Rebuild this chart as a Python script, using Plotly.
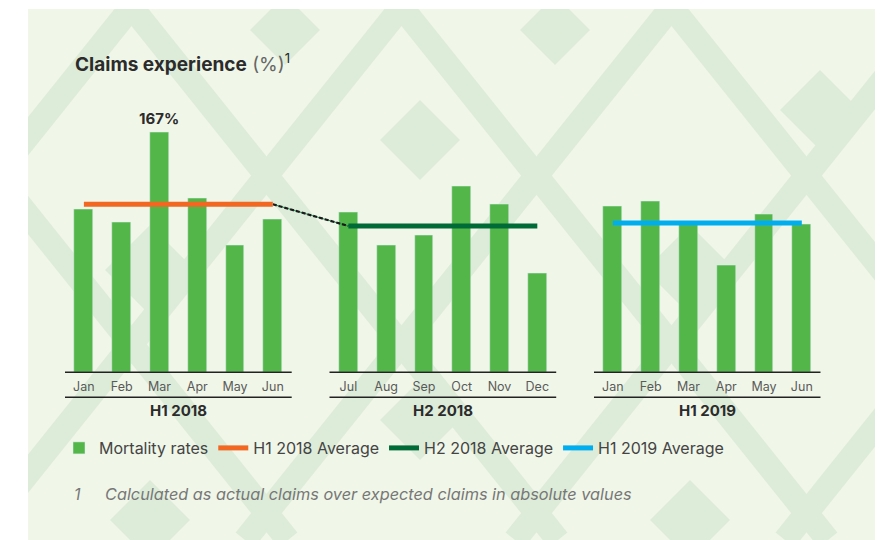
import plotly.graph_objects as go

# ---------------- data ----------------
groups = ["H1 2018", "H2 2018", "H1 2019"]
months_h1_2018 = ["Jan", "Feb", "Mar", "Apr", "May", "Jun"]
months_h2_2018 = ["Jul", "Aug", "Sep", "Oct", "Nov", "Dec"]
months_h1_2019 = ["Jan", "Feb", "Mar", "Apr", "May", "Jun"]
mortality_h1_2018 = [113, 104, 167, 121, 88, 106]
mortality_h2_2018 = [111, 88, 95, 129, 117, 69]
mortality_h1_2019 = [115, 119, 103, 74, 110, 103]
avg_h1_2018 = 116.7
avg_h2_2018 = 101.6
avg_h1_2019 = 103.6

# ---------------- styles ----------------
W, H = 891, 540
FONT = "Inter"
BAR_GREEN = "#52b748"
ORANGE = "#f26722"
DARK_GREEN = "#006b36"
BLUE = "#00aeef"
PANEL = "#f0f6e8"
STRIPE = "#ddecd9"
TEXT = "#2b2b2b"
GRAY = "#5a5a5a"

month_groups = [months_h1_2018, months_h2_2018, months_h1_2019]
value_groups = [mortality_h1_2018, mortality_h2_2018, mortality_h1_2019]
avg_values = [avg_h1_2018, avg_h2_2018, avg_h1_2019]
avg_colors = [ORANGE, DARK_GREEN, BLUE]

GAP = 7  # slots per group (6 months + 1 empty slot)
positions = [[g * GAP + i for i in range(len(m))] for g, m in enumerate(month_groups)]

all_x = [p for ps in positions for p in ps]
all_y = [v for vs in value_groups for v in vs]
all_lbl = [m for ms in month_groups for m in ms]
peak = max(all_y)
peak_x = all_x[all_y.index(peak)]

fig = go.Figure()

fig.add_trace(go.Bar(
    x=all_x, y=all_y, name="Mortality rates", marker_color=BAR_GREEN,
    width=0.5, hoverinfo="skip",
))

# connector between H1 2018 and H2 2018 averages
conn_x = [positions[0][-1], positions[1][0]]
conn_y = [avg_values[0], avg_values[1]]
fig.add_trace(go.Scatter(x=conn_x, y=conn_y, mode="lines",
                         line=dict(color="#2f8f5a", width=1.2),
                         showlegend=False, hoverinfo="skip"))
fig.add_trace(go.Scatter(x=conn_x, y=conn_y, mode="lines",
                         line=dict(color="#1a1a1a", width=2.2, dash="4px,2px"),
                         showlegend=False, hoverinfo="skip"))

for g in range(3):
    fig.add_trace(go.Scatter(
        x=[positions[g][0], positions[g][-1]], y=[avg_values[g], avg_values[g]],
        mode="lines", name=f"{groups[g]} Average",
        line=dict(color=avg_colors[g], width=5), hoverinfo="skip",
    ))

# ---------------- layout geometry (px) ----------------
def px_x(x):
    return x / W

def px_y(y):
    return 1 - y / H

y_bottom_px, y_top_px = 372, 113.3
x_left_px, x_right_px = 65, 820.7

shapes = []
# panel
shapes.append(dict(type="rect", xref="paper", yref="paper", x0=px_x(28), x1=px_x(875),
                   y0=0, y1=px_y(9), fillcolor=PANEL, line_width=0, layer="below"))
# decorative background pattern (diagonal bands / chevrons)
band = 24
for a in range(-700, 1300, 270):
    shapes.append(dict(type="line", xref="paper", yref="paper",
                       x0=px_x(a), y0=px_y(-20), x1=px_x(a + 560 / 1.25), y1=px_y(540),
                       line=dict(color=STRIPE, width=band), layer="below"))
    shapes.append(dict(type="line", xref="paper", yref="paper",
                       x0=px_x(a + 135), y0=px_y(540), x1=px_x(a + 135 + 560 / 1.25), y1=px_y(-20),
                       line=dict(color=STRIPE, width=band), layer="below"))
# filled diamonds
for cx, cy, r in [(150, 270, 45), (420, 140, 40), (690, 270, 45), (420, 420, 40),
                  (150, 520, 40), (690, 520, 40), (820, 110, 40), (285, 30, 35), (555, 30, 35)]:
    path = (f"M{px_x(cx)},{px_y(cy - r)} L{px_x(cx + r)},{px_y(cy)} "
            f"L{px_x(cx)},{px_y(cy + r)} L{px_x(cx - r)},{px_y(cy)} Z")
    shapes.append(dict(type="path", xref="paper", yref="paper", path=path,
                       fillcolor=STRIPE, line_width=0, layer="below"))
# white masks outside the panel
for x0, y0, x1, y1 in [(0, 0, 28, 540), (875, 0, 891, 540), (0, 0, 891, 9)]:
    shapes.append(dict(type="rect", xref="paper", yref="paper", x0=px_x(x0), x1=px_x(x1),
                       y0=px_y(y1), y1=px_y(y0), fillcolor="white", line_width=0, layer="below"))

annotations = []
# peak value label
annotations.append(dict(x=peak_x, y=peak, xref="x", yref="y", yanchor="bottom", yshift=2,
                        text=f"<b>{peak}%</b>", showarrow=False,
                        font=dict(family=FONT, size=15, color=TEXT)))
for g in range(3):
    lo, hi = positions[g][0] - 0.5, positions[g][-1] + 0.5
    for ypx in (372.3, 397.3):
        shapes.append(dict(type="line", xref="x", yref="paper", x0=lo, x1=hi,
                           y0=px_y(ypx), y1=px_y(ypx), line=dict(color="#222222", width=1.5)))
    annotations.append(dict(x=sum(positions[g]) / len(positions[g]), y=px_y(410),
                            xref="x", yref="paper", yanchor="middle", text=f"<b>{groups[g]}</b>",
                            showarrow=False, font=dict(family=FONT, size=15, color=TEXT)))

annotations.append(dict(x=px_x(73), y=px_y(63), xref="paper", yref="paper",
                        xanchor="left", yanchor="middle",
                        text="<b>Claims experience</b> <span style='color:#666666'>(%)</span>"
                             "<sup style='font-size:10px'>1</sup>",
                        showarrow=False, font=dict(family=FONT, size=19, color=TEXT)))
annotations.append(dict(x=px_x(72), y=px_y(494), xref="paper", yref="paper",
                        xanchor="left", yanchor="middle",
                        text="<i>1</i>", showarrow=False,
                        font=dict(family=FONT, size=16, color="#777777")))
annotations.append(dict(x=px_x(103), y=px_y(494), xref="paper", yref="paper",
                        xanchor="left", yanchor="middle",
                        text="<i>Calculated as actual claims over expected claims in absolute values</i>",
                        showarrow=False, font=dict(family=FONT, size=16.3, color="#777777")))

fig.update_layout(
    width=W, height=H, margin=dict(l=0, r=0, t=0, b=0),
    paper_bgcolor="white", plot_bgcolor="rgba(0,0,0,0)",
    font=dict(family=FONT, color=TEXT),
    showlegend=True,
    legend=dict(orientation="h", x=px_x(59), y=px_y(431), xanchor="left", yanchor="top",
                font=dict(family=FONT, size=16, color="#444444"),
                bgcolor="rgba(0,0,0,0)", itemwidth=30, tracegroupgap=0),
    xaxis=dict(domain=[px_x(x_left_px), px_x(x_right_px)], range=[-0.5, 19.5],
               tickmode="array", tickvals=all_x, ticktext=all_lbl, ticks="",
               ticklabelstandoff=5,
               showgrid=False, zeroline=False, showline=False,
               tickfont=dict(family=FONT, size=12.5, color=GRAY), fixedrange=True),
    yaxis=dict(domain=[px_y(y_bottom_px), px_y(y_top_px)], range=[0, 180],
               visible=False, fixedrange=True),
    shapes=shapes, annotations=annotations, bargap=0,
)

fig.write_html("out.html", config={"displayModeBar": False},
               post_script="document.body.style.margin='0';")
